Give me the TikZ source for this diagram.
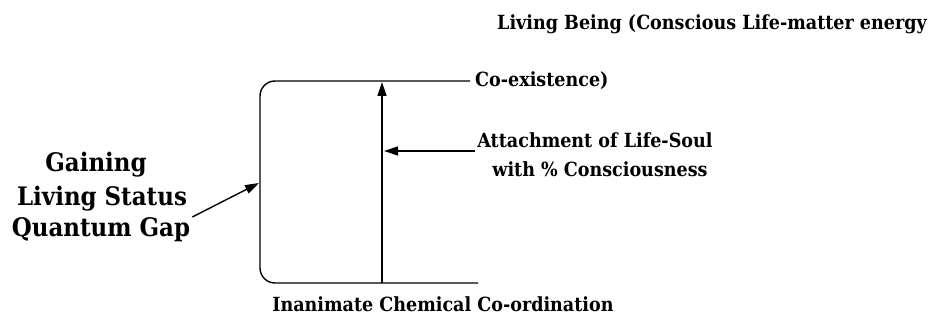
\documentclass[tikz,border=0pt]{standalone}
\usepackage{fontspec}
\setmainfont{DejaVu Serif Condensed}
\usetikzlibrary{arrows.meta}
\begin{document}
\begin{tikzpicture}[x=1pt,y=-1pt,
  lbl/.style={font=\bfseries\fontsize{19.5}{24}\selectfont, inner sep=0pt, text=black},
  biglbl/.style={lbl, font=\bfseries\fontsize{25.5}{30}\selectfont},
  ln/.style={line width=1.4pt, draw=black},
  arr/.style={ln, -{Triangle[length=14pt,width=9pt]}}]
\useasboundingbox[fill=white] (0,0) rectangle (932,320);
% texts
\node[lbl, anchor=base west] (top) at (497,30) {Living Being (Conscious Life-matter energy};
\node[lbl, anchor=west] (coex) at (475,81) {Co-existence)};
\node[lbl, anchor=base] (att1) at (595,148) {Attachment of Life-Soul};
\node[lbl, anchor=base] (att2) at (600,177) {with \% Consciousness};
\node[biglbl, anchor=base] (g1) at (96,172) {Gaining};
\node[biglbl, anchor=base] (g2) at (102,206) {Living Status};
\node[biglbl, anchor=base] (g3) at (101,237) {Quantum Gap};
\node[lbl, anchor=base] (bot) at (443,312) {Inanimate Chemical Co-ordination};
% connector points
\coordinate (topend) at ([xshift=-5pt]coex.west);
\coordinate (tl) at (260,81);
\coordinate (bl) at (260,283);
\coordinate (botend) at (478,283);
\coordinate (vbase) at (382,283);
\coordinate (vtip) at (382,82);
\coordinate (attstart) at ([xshift=-2pt,yshift=-3pt]att1.base west);
\coordinate (atttip) at (384,151);
\coordinate (gstart) at ([xshift=2pt,yshift=20pt]g3.base east);
\coordinate (gtip) at (259,183);
% bracket
\draw[ln, rounded corners=15pt] (topend) -- (tl) -- (bl) -- (botend);
% arrows
\draw[arr] (vbase) -- (vtip);
\draw[arr] (attstart) -- (atttip);
\draw[arr] (gstart) -- (gtip);
\end{tikzpicture}
\end{document}
